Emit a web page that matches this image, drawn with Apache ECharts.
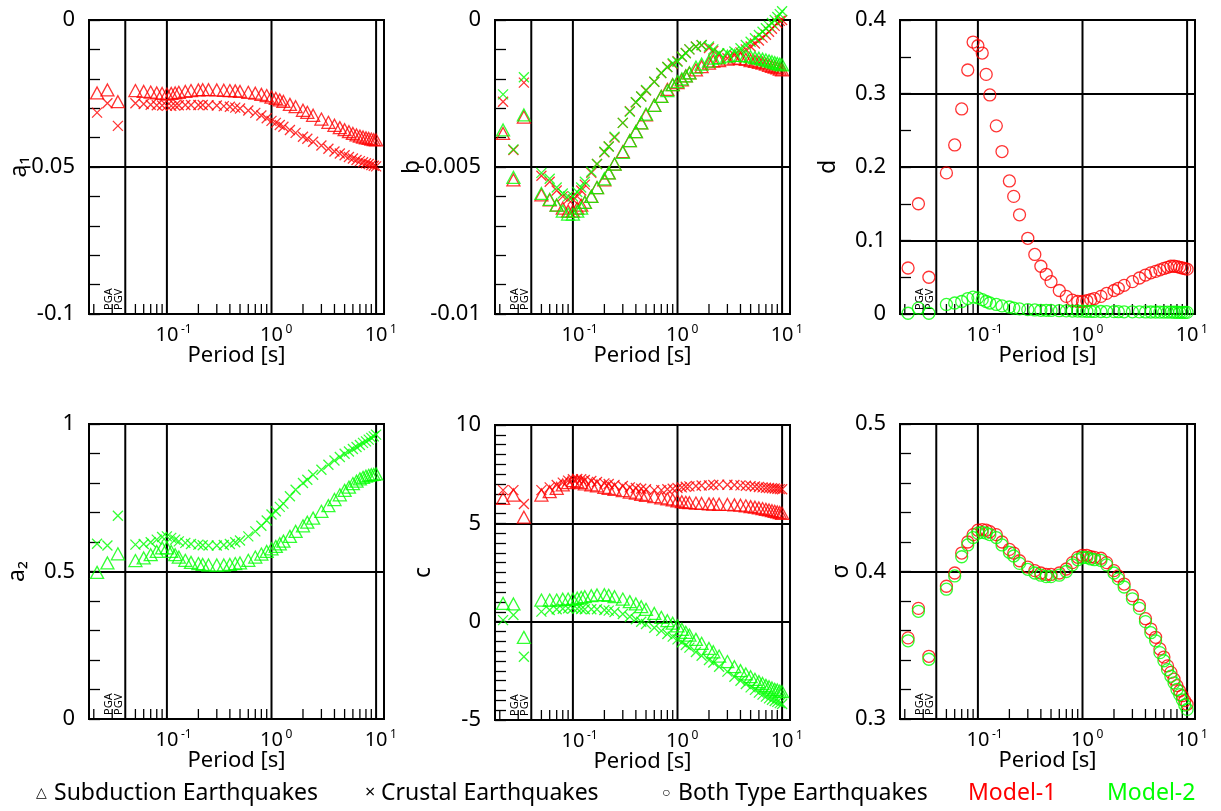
<!DOCTYPE html>
<html>
<head>
<meta charset="utf-8">
<script src="https://cdn.jsdelivr.net/npm/echarts@6/dist/echarts.min.js"></script>
<style>
html,body{margin:0;padding:0;background:#fff;}
#main{width:1221px;height:811px;}
</style>
</head>
<body>
<div id="main"></div>
<script>
// periods [s]
const periods = [0.05,0.06,0.07,0.08,0.09,0.1,0.11,0.12,0.13,0.15,0.17,0.2,0.22,0.25,0.3,0.35,0.4,0.45,0.5,0.6,0.7,0.8,0.9,1,1.1,1.2,1.3,1.5,1.7,2,2.2,2.5,3,3.5,4,4.5,5,5.5,6,6.5,7,7.5,8,8.5,9,9.5,10];
// the three PGA / PGV points plotted left of the separator
const pgaX = [0.0215, 0.027, 0.034];
const pgaLabels = ['', 'PGA', 'PGV'];
// x decorations
const gridLineX = [0.04, 0.1, 1, 10];
const minorTickX = [0.02,0.03,0.05,0.06,0.07,0.08,0.09,0.2,0.3,0.4,0.5,0.6,0.7,0.8,0.9,2,3,4,5,6,7,8,9];
const decadeX = [0.1, 1, 10];
const decadeExp = ['-1', '0', '1'];

// a1
const a1SubM1 = [-0.0240,-0.0243,-0.0245,-0.0248,-0.0250,-0.0252,-0.0250,-0.0248,-0.0246,-0.0243,-0.0240,-0.0238,-0.0237,-0.0237,-0.0238,-0.0239,-0.0240,-0.0241,-0.0243,-0.0246,-0.0249,-0.0253,-0.0257,-0.0262,-0.0267,-0.0272,-0.0277,-0.0287,-0.0295,-0.0307,-0.0314,-0.0324,-0.0337,-0.0348,-0.0358,-0.0366,-0.0373,-0.0380,-0.0386,-0.0391,-0.0395,-0.0398,-0.0401,-0.0403,-0.0405,-0.0407,-0.0408];
const a1CruM1 = [-0.0283,-0.0286,-0.0288,-0.0290,-0.0291,-0.0292,-0.0292,-0.0291,-0.0290,-0.0289,-0.0289,-0.0289,-0.0289,-0.0290,-0.0291,-0.0293,-0.0295,-0.0298,-0.0301,-0.0308,-0.0316,-0.0325,-0.0334,-0.0343,-0.0350,-0.0357,-0.0363,-0.0374,-0.0384,-0.0397,-0.0404,-0.0414,-0.0427,-0.0438,-0.0447,-0.0454,-0.0460,-0.0466,-0.0471,-0.0476,-0.0480,-0.0484,-0.0487,-0.0490,-0.0493,-0.0496,-0.0498];
const a1SubM1Pga = [-0.0248,-0.0238,-0.0278];
const a1CruM1Pga = [-0.0315,-0.0283,-0.0360];

// b
const bSubM1 = [-0.00595,-0.00612,-0.0063,-0.0064,-0.0065,-0.0065,-0.0064,-0.0063,-0.0062,-0.0060,-0.0057,-0.00544,-0.0052,-0.0049,-0.00448,-0.0041,-0.0038,-0.0035,-0.00323,-0.0029,-0.0026,-0.00236,-0.0022,-0.00213,-0.00204,-0.0019,-0.0018,-0.0017,-0.00159,-0.00147,-0.0014,-0.00138,-0.00133,-0.0013,-0.00131,-0.00134,-0.00138,-0.00141,-0.00144,-0.00147,-0.0015,-0.00154,-0.00158,-0.0016,-0.00163,-0.00167,-0.0017];
const bSubM2 = [-0.0059,-0.0061,-0.0063,-0.0065,-0.0066,-0.0066,-0.0065,-0.0064,-0.0062,-0.0060,-0.0057,-0.0054,-0.0052,-0.0049,-0.0045,-0.0041,-0.0038,-0.0035,-0.0032,-0.0029,-0.0026,-0.0024,-0.0022,-0.0021,-0.0020,-0.0019,-0.0018,-0.0016,-0.0015,-0.0014,-0.0013,-0.00128,-0.00123,-0.0012,-0.0012,-0.00122,-0.00125,-0.00128,-0.0013,-0.00133,-0.00136,-0.00139,-0.00142,-0.00145,-0.00148,-0.0015,-0.00153];
const bCruM1 = [-0.0053,-0.0055,-0.0058,-0.0060,-0.0061,-0.0061,-0.0060,-0.0058,-0.0056,-0.0052,-0.0049,-0.0045,-0.0043,-0.0040,-0.0035,-0.0031,-0.0028,-0.0026,-0.0024,-0.0021,-0.0018,-0.0016,-0.0015,-0.0014,-0.00125,-0.00112,-0.0010,-0.0009,-0.00086,-0.00095,-0.00105,-0.00115,-0.0013,-0.0012,-0.0011,-0.0010,-0.0009,-0.0008,-0.0007,-0.0006,-0.0005,-0.0004,-0.0003,-0.0002,-0.0001,-0.00003,0.0];
const bCruM2 = [-0.0052,-0.0054,-0.0057,-0.0059,-0.0060,-0.0060,-0.00585,-0.0057,-0.0055,-0.00516,-0.0049,-0.00448,-0.0043,-0.00397,-0.0035,-0.00312,-0.0028,-0.0026,-0.00238,-0.0021,-0.0018,-0.0016,-0.00147,-0.00142,-0.00125,-0.00113,-0.0010,-0.00091,-0.00085,-0.0009,-0.0010,-0.00113,-0.00113,-0.00107,-0.00096,-0.00085,-0.00074,-0.00062,-0.00051,-0.0004,-0.00028,-0.0002,-0.0001,0.0,0.0001,0.0002,0.0003];
const bSubM1Pga = [-0.00386,-0.00544,-0.0033];
const bSubM2Pga = [-0.00374,-0.00535,-0.00323];
const bCruM1Pga = [-0.00278,-0.00442,-0.00213];
const bCruM2Pga = [-0.00253,-0.0044,-0.00195];

// d
const dM1 = [0.192,0.230,0.279,0.332,0.370,0.365,0.355,0.326,0.298,0.256,0.221,0.181,0.160,0.135,0.103,0.081,0.065,0.054,0.044,0.032,0.024,0.019,0.017,0.017,0.018,0.0195,0.021,0.024,0.028,0.032,0.035,0.039,0.044,0.049,0.053,0.056,0.058,0.060,0.062,0.0635,0.065,0.065,0.0644,0.0635,0.0626,0.0617,0.061];
const dM2 = [0.013,0.015,0.017,0.021,0.023,0.022,0.0195,0.017,0.015,0.013,0.011,0.0095,0.008,0.007,0.006,0.0055,0.005,0.005,0.0048,0.0045,0.0042,0.004,0.004,0.0038,0.0037,0.0036,0.0035,0.0034,0.0033,0.0032,0.0031,0.003,0.003,0.0029,0.0028,0.0027,0.0027,0.0026,0.0026,0.0025,0.0025,0.0024,0.0024,0.0023,0.0023,0.0022,0.0022];
const dM1Pga = [0.0626,0.150,0.050];
const dM2Pga = [0.001,0.008,0.001];

// a2
const a2SubM2 = [0.537,0.546,0.557,0.568,0.580,0.580,0.568,0.557,0.549,0.538,0.531,0.527,0.524,0.522,0.522,0.522,0.524,0.527,0.529,0.538,0.549,0.559,0.568,0.577,0.585,0.594,0.603,0.619,0.636,0.655,0.667,0.681,0.704,0.723,0.744,0.760,0.775,0.786,0.798,0.806,0.814,0.819,0.823,0.826,0.828,0.829,0.831];
const a2CruM2 = [0.591,0.593,0.599,0.608,0.617,0.619,0.614,0.608,0.602,0.597,0.593,0.591,0.589,0.588,0.588,0.590,0.593,0.599,0.605,0.619,0.636,0.655,0.673,0.693,0.704,0.719,0.730,0.755,0.777,0.800,0.811,0.828,0.845,0.862,0.876,0.888,0.899,0.907,0.915,0.922,0.929,0.936,0.941,0.947,0.953,0.958,0.964];
const a2SubM2Pga = [0.497,0.529,0.560];
const a2CruM2Pga = [0.594,0.588,0.689];

// c
const cSubM1 = [6.44,6.61,6.78,6.95,7.07,7.17,7.12,7.07,7.00,6.95,6.90,6.83,6.78,6.73,6.66,6.59,6.53,6.47,6.42,6.36,6.29,6.24,6.19,6.14,6.10,6.07,6.05,6.03,6.01,5.99,5.98,5.97,5.96,5.94,5.92,5.89,5.85,5.82,5.78,5.75,5.71,5.68,5.64,5.61,5.58,5.55,5.51];
const cCruM1 = [6.69,6.83,6.95,7.07,7.17,7.24,7.25,7.24,7.20,7.15,7.10,7.03,7.00,6.95,6.90,6.83,6.80,6.76,6.73,6.69,6.69,6.73,6.76,6.80,6.83,6.86,6.88,6.90,6.92,6.93,6.95,6.97,6.96,6.95,6.93,6.91,6.89,6.87,6.85,6.83,6.81,6.80,6.78,6.77,6.76,6.74,6.73];
const cSubM2 = [1.10,1.10,1.10,1.14,1.15,1.14,1.19,1.24,1.27,1.32,1.36,1.37,1.34,1.27,1.15,1.02,0.90,0.76,0.63,0.42,0.22,0.05,-0.08,-0.22,-0.39,-0.54,-0.68,-0.90,-1.10,-1.36,-1.53,-1.75,-2.03,-2.29,-2.49,-2.66,-2.80,-2.93,-3.05,-3.14,-3.24,-3.31,-3.37,-3.44,-3.47,-3.53,-3.56];
const cCruM2 = [0.51,0.59,0.63,0.66,0.68,0.68,0.66,0.64,0.63,0.63,0.63,0.59,0.56,0.49,0.39,0.25,0.12,0.00,-0.12,-0.31,-0.47,-0.63,-0.76,-0.90,-1.05,-1.19,-1.32,-1.54,-1.73,-1.95,-2.08,-2.29,-2.54,-2.80,-3.00,-3.17,-3.34,-3.47,-3.61,-3.71,-3.81,-3.90,-3.97,-4.03,-4.08,-4.14,-4.19];
const cSubM1Pga = [6.27,6.44,5.31];
const cCruM1Pga = [6.69,6.69,5.98];
const cSubM2Pga = [0.93,0.90,-0.80];
const cCruM2Pga = [0.08,0.34,-1.78];

// sigma
const sM1 = [0.390,0.399,0.4125,0.420,0.425,0.428,0.4284,0.428,0.427,0.425,0.420,0.415,0.4125,0.4073,0.403,0.4006,0.399,0.398,0.398,0.399,0.4017,0.406,0.4096,0.411,0.411,0.410,0.4096,0.409,0.406,0.4006,0.397,0.3915,0.3836,0.377,0.368,0.361,0.3554,0.3475,0.342,0.336,0.3316,0.327,0.3226,0.319,0.3158,0.3124,0.310];
const sM2 = [0.388,0.397,0.410,0.418,0.423,0.426,0.4265,0.426,0.425,0.423,0.418,0.413,0.4105,0.4055,0.4015,0.399,0.3975,0.3965,0.3965,0.3975,0.400,0.4045,0.408,0.4095,0.4095,0.4085,0.408,0.4075,0.4045,0.399,0.395,0.3895,0.3815,0.375,0.366,0.3585,0.353,0.345,0.3395,0.3335,0.329,0.3245,0.32,0.3165,0.313,0.3095,0.3065];
const sM1Pga = [0.355,0.375,0.3425];
const sM2Pga = [0.353,0.373,0.3405];

const RED = '#ff0000';
const GREEN = '#00ff00';
const FONT = 'Noto Sans';
const CROSS = 'path://M0,0L10,10M10,0L0,10';

const pts = (xs, ys) => xs.map((x, i) => [x, ys[i]]);

function marks(kind, color, pga, main) {
  let symbol = 'triangle', size = [13, 12];
  if (kind === 'cross') { symbol = CROSS; size = 10; }
  if (kind === 'circle') { symbol = 'circle'; size = 12; }
  return { kind, color, data: pts(pgaX, pga).concat(pts(periods, main)), symbol, size };
}

const panels = [
  { left: 89, top: 20, h: 294, min: -0.1, max: 0, interval: 0.05, minor: 5, name: 'a₁', gap: 58,
    sets: [marks('tri', RED, a1SubM1Pga, a1SubM1), marks('cross', RED, a1CruM1Pga, a1CruM1)] },
  { left: 495, top: 20, h: 294, min: -0.01, max: 0, interval: 0.005, minor: 5, name: 'b', gap: 71,
    sets: [marks('tri', RED, bSubM1Pga, bSubM1), marks('cross', RED, bCruM1Pga, bCruM1),
           marks('tri', GREEN, bSubM2Pga, bSubM2), marks('cross', GREEN, bCruM2Pga, bCruM2)] },
  { left: 900, top: 20, h: 294, min: 0, max: 0.4, interval: 0.1, minor: 2, name: 'd', gap: 60,
    sets: [marks('circle', RED, dM1Pga, dM1), marks('circle', GREEN, dM2Pga, dM2)] },
  { left: 89, top: 424, h: 295, min: 0, max: 1, interval: 0.5, minor: 5, name: 'a₂', gap: 60,
    sets: [marks('tri', GREEN, a2SubM2Pga, a2SubM2), marks('cross', GREEN, a2CruM2Pga, a2CruM2)] },
  { left: 495, top: 425, h: 295, min: -5, max: 10, interval: 5, minor: 10, name: 'c', gap: 60,
    sets: [marks('tri', RED, cSubM1Pga, cSubM1), marks('cross', RED, cCruM1Pga, cCruM1),
           marks('tri', GREEN, cSubM2Pga, cSubM2), marks('cross', GREEN, cCruM2Pga, cCruM2)] },
  { left: 900, top: 424, h: 295, min: 0.3, max: 0.5, interval: 0.1, minor: 5, name: 'σ', gap: 47,
    sets: [marks('circle', RED, sM1Pga, sM1), marks('circle', GREEN, sM2Pga, sM2)] }
];

const grid = [], xAxis = [], yAxis = [], series = [];

panels.forEach((p, k) => {
  grid.push({ left: p.left, top: p.top, width: 295, height: p.h, show: true,
    borderColor: '#000', borderWidth: 2, backgroundColor: 'transparent' });
  xAxis.push({ type: 'log', logBase: 10, gridIndex: k, min: 0.018, max: 11.9,
    axisLine: { show: false }, axisTick: { show: false }, axisLabel: { show: false },
    splitLine: { show: false }, minorTick: { show: false },
    name: 'Period [s]', nameLocation: 'middle', nameGap: 31,
    nameTextStyle: { fontSize: 22, color: '#000', fontFamily: FONT } });
  yAxis.push({ type: 'value', gridIndex: k, min: p.min, max: p.max, interval: p.interval,
    axisLine: { show: false },
    axisTick: { show: true, inside: true, length: 11, lineStyle: { color: '#000', width: 1.3 } },
    minorTick: { show: true, splitNumber: p.minor, length: 11, lineStyle: { color: '#000', width: 1.3 } },
    splitLine: { show: true, lineStyle: { color: '#000', width: 2 } },
    axisLabel: { fontSize: 22, color: '#000', margin: 14, fontFamily: FONT },
    name: p.name, nameLocation: 'middle', nameRotate: 90, nameGap: p.gap, nameMoveOverlap: false,
    nameTextStyle: { fontSize: 23, color: '#000', fontFamily: FONT } });

  // grid lines, minor x ticks, decade labels, PGA/PGV labels
  series.push({
    type: 'custom', xAxisIndex: k, yAxisIndex: k, silent: true, z: 1, animation: false,
    data: [[1, p.min]],
    renderItem: (params, api) => {
      const yb = api.coord([1, p.min])[1];
      const yt = api.coord([1, p.max])[1];
      const kids = [];
      gridLineX.forEach(v => {
        const x = api.coord([v, p.min])[0];
        kids.push({ type: 'line', shape: { x1: x, y1: yb, x2: x, y2: yt }, style: { stroke: '#000', lineWidth: 2 } });
      });
      minorTickX.forEach(v => {
        const x = api.coord([v, p.min])[0];
        kids.push({ type: 'line', shape: { x1: x, y1: yb, x2: x, y2: yb - 10 }, style: { stroke: '#000', lineWidth: 1.3 } });
      });
      decadeX.forEach((v, i) => {
        const x = api.coord([v, p.min])[0];
        kids.push({ type: 'text', x: x, y: yb + 21, style: { text: '10', fontSize: 20, fontFamily: FONT, fill: '#000', align: 'center', verticalAlign: 'middle' } });
        kids.push({ type: 'text', x: x + 14, y: yb + 16, style: { text: decadeExp[i], fontSize: 12, fontFamily: FONT, fill: '#000', align: 'left', verticalAlign: 'middle' } });
      });
      pgaX.forEach((v, i) => {
        if (!pgaLabels[i]) return;
        const x = api.coord([v, p.min])[0];
        kids.push({ type: 'text', x: x + 1, y: yb - 4, rotation: Math.PI / 2,
          style: { text: pgaLabels[i], fontSize: 11, fontFamily: FONT, fill: '#000', align: 'left', verticalAlign: 'middle' } });
      });
      return { type: 'group', children: kids };
    }
  });

  p.sets.forEach(s => {
    series.push({
      type: 'scatter', xAxisIndex: k, yAxisIndex: k, data: s.data, clip: false,
      symbol: s.symbol, symbolSize: s.size, silent: true, animation: false, z: 3,
      itemStyle: { color: 'rgba(0,0,0,0)', borderColor: s.color, borderWidth: 1.3 },
      emphasis: { disabled: true }
    });
  });
});

// legend row
const legendItems = [
  { x: 36, text: '△', size: 14, color: '#000' },
  { x: 54, text: 'Subduction Earthquakes', size: 23, color: '#000' },
  { x: 365, text: '×', size: 18, color: '#000' },
  { x: 381, text: 'Crustal Earthquakes', size: 23, color: '#000' },
  { x: 662, text: '○', size: 14, color: '#000' },
  { x: 678, text: 'Both Type Earthquakes', size: 23, color: '#000' },
  { x: 968, text: 'Model-1', size: 23, color: RED },
  { x: 1107, text: 'Model-2', size: 23, color: GREEN }
];

const chart = echarts.init(document.getElementById('main'));
chart.setOption({
  backgroundColor: '#fff',
  animation: false,
  textStyle: { fontFamily: FONT },
  grid, xAxis, yAxis, series,
  graphic: legendItems.map(it => ({
    type: 'text', x: it.x, y: 793, silent: true,
    style: { text: it.text, fontSize: it.size, fontFamily: FONT, fill: it.color, align: 'left', verticalAlign: 'middle' }
  }))
});
</script>
</body>
</html>
